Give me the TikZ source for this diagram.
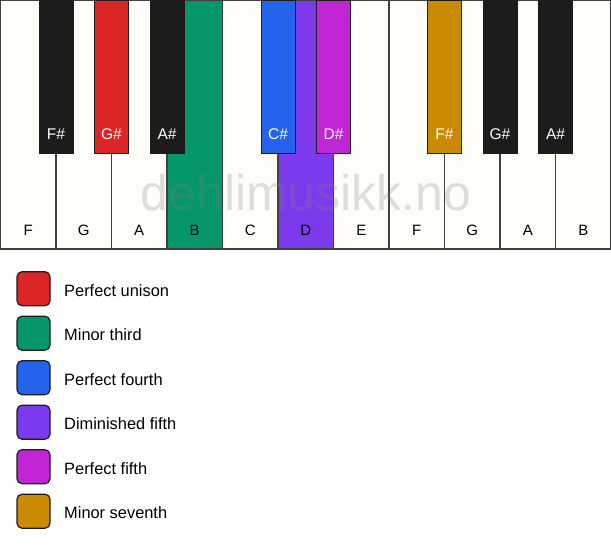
\documentclass[tikz,border=0pt]{standalone}
\usepackage{fontspec}
\setmainfont{Liberation Sans}
\usepackage{xcolor}
\definecolor{colorfffdf8}{HTML}{FFFDF8}
\definecolor{color1c1c1c}{HTML}{1C1C1C}
\definecolor{color404040}{HTML}{404040}
\definecolor{colordc2626}{HTML}{DC2626}
\definecolor{color059669}{HTML}{059669}
\definecolor{color2563eb}{HTML}{2563EB}
\definecolor{color7c3aed}{HTML}{7C3AED}
\definecolor{colorc026d3}{HTML}{C026D3}
\definecolor{colorca8a04}{HTML}{CA8A04}

\begin{document}
\begin{tikzpicture}
    [x=1pt, y=-1pt,  % pixel grid, origin top left
     whitekey/.style={draw=color404040, line width=1.3pt, fill=colorfffdf8, minimum width=55.5pt, minimum height=249pt, inner sep=0pt, outer sep=0pt, anchor=north west},
     blackkey/.style={draw=color1c1c1c, line width=1pt, fill=color1c1c1c, minimum width=34pt, minimum height=153pt, inner sep=0pt, outer sep=0pt, anchor=north},
     whitelabel/.style={anchor=base, yshift=13.3pt, inner sep=0pt, text=black, font=\fontsize{15}{18}\selectfont},
     blacklabel/.style={anchor=base, yshift=14pt, inner sep=0pt, text=white, font=\fontsize{15.5}{18}\selectfont},
     legendbox/.style={draw=color1c1c1c, line width=1.2pt, rounded corners=5pt, minimum width=33pt, minimum height=34pt, inner sep=0pt},
     legendtext/.style={anchor=base west, inner sep=0pt, font=\fontsize{16.4}{19}\selectfont},
    ]

\useasboundingbox (0,0) rectangle (611,550);

% white keys
\node[whitekey, label={[whitelabel]south:F}] (node_f1) at (0.5,0) {};
\node[whitekey, label={[whitelabel]south:G}] (node_g1) at (56,0) {};
\node[whitekey, label={[whitelabel]south:A}] (node_a1) at (111.5,0) {};
\node[whitekey, fill=color059669, label={[whitelabel]south:B}] (node_b1) at (167,0) {};
\node[whitekey, label={[whitelabel]south:C}] (node_c1) at (222.5,0) {};
\node[whitekey, fill=color7c3aed, label={[whitelabel]south:D}] (node_d1) at (278,0) {};
\node[whitekey, label={[whitelabel]south:E}] (node_e1) at (333.5,0) {};
\node[whitekey, label={[whitelabel]south:F}] (node_f2) at (389,0) {};
\node[whitekey, label={[whitelabel]south:G}] (node_g2) at (444.5,0) {};
\node[whitekey, label={[whitelabel]south:A}] (node_a2) at (500,0) {};
\node[whitekey, label={[whitelabel]south:B}] (node_b2) at (555.5,0) {};

% black keys
\node[blackkey, label={[blacklabel]south:F\#}] (node_fs1) at (node_f1.north east) {};
\node[blackkey, fill=colordc2626, label={[blacklabel]south:G\#}] (node_gs1) at (node_g1.north east) {};
\node[blackkey, label={[blacklabel]south:A\#}] (node_as1) at (node_a1.north east) {};
\node[blackkey, fill=color2563eb, label={[blacklabel]south:C\#}] (node_cs1) at (node_c1.north east) {};
\node[blackkey, fill=colorc026d3, label={[blacklabel]south:D\#}] (node_ds1) at (node_d1.north east) {};
\node[blackkey, fill=colorca8a04, label={[blacklabel]south:F\#}] (node_fs2) at (node_f2.north east) {};
\node[blackkey, label={[blacklabel]south:G\#}] (node_gs2) at (node_g2.north east) {};
\node[blackkey, label={[blacklabel]south:A\#}] (node_as2) at (node_a2.north east) {};

\node[anchor=base, inner sep=0pt, text=gray, text opacity=0.25, font=\fontsize{50}{60}\selectfont] (node_watermark) at (306,210) {dehlimusikk.no};

% legend
\node[legendbox, fill=colordc2626] (node_unison) at (33.5,288.7) {};
\node[legendbox, fill=color059669] (node_minthird) at (33.5,333.2) {};
\node[legendbox, fill=color2563eb] (node_fourth) at (33.5,377.7) {};
\node[legendbox, fill=color7c3aed] (node_dimfifth) at (33.5,422.2) {};
\node[legendbox, fill=colorc026d3] (node_fifth) at (33.5,466.7) {};
\node[legendbox, fill=colorca8a04] (node_minseventh) at (33.5,511.2) {};
\node[legendtext] (node_unison_text) at (64,296) {Perfect unison};
\node[legendtext] (node_minthird_text) at (64,340.5) {Minor third};
\node[legendtext] (node_fourth_text) at (64,385) {Perfect fourth};
\node[legendtext] (node_dimfifth_text) at (64,429.5) {Diminished fifth};
\node[legendtext] (node_fifth_text) at (64,474) {Perfect fifth};
\node[legendtext] (node_minseventh_text) at (64,518.5) {Minor seventh};

\end{tikzpicture}
\end{document}
